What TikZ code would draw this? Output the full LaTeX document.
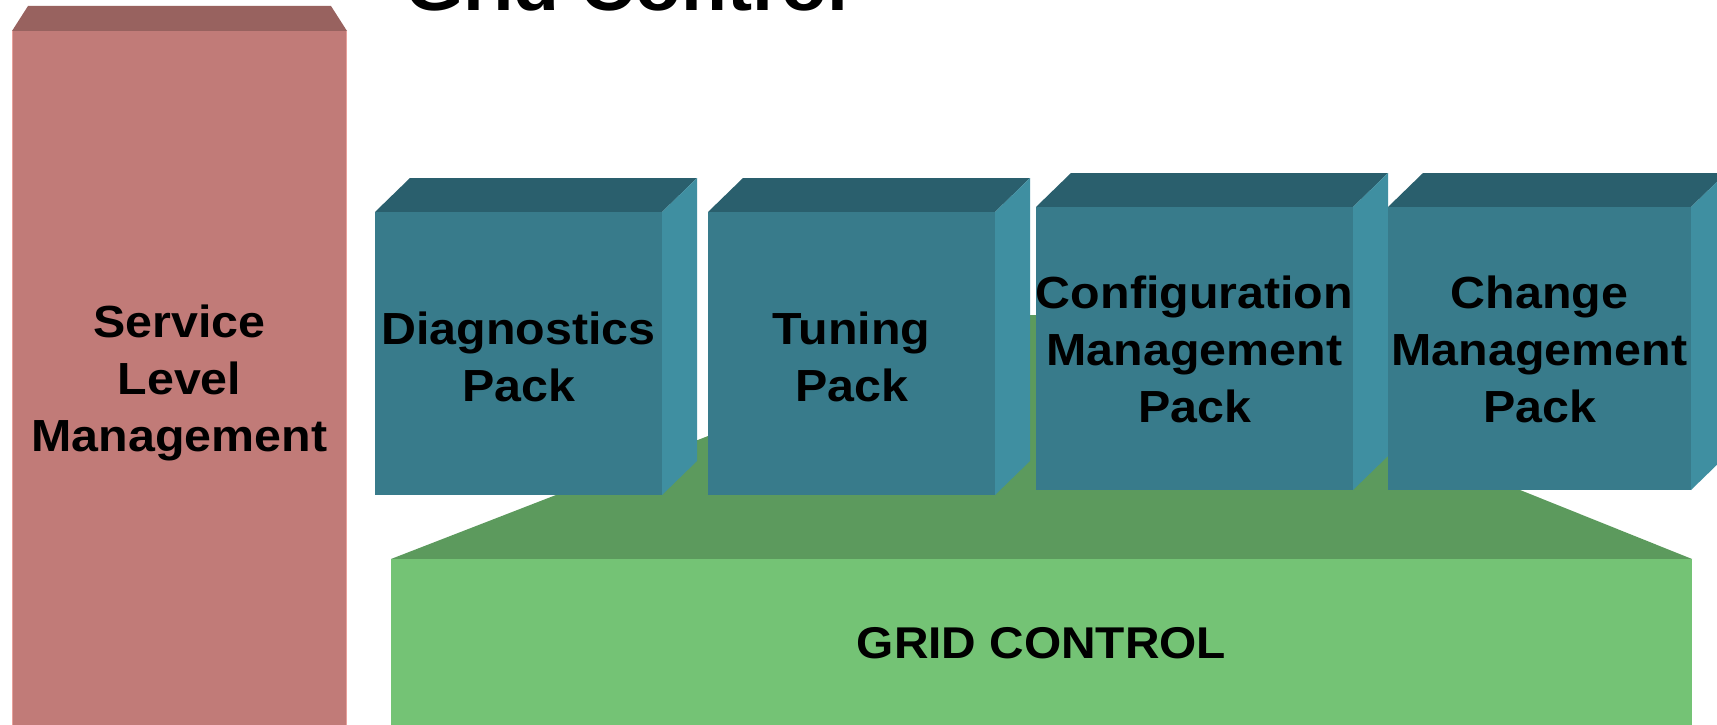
\documentclass[tikz,border=0pt]{standalone}
\usepackage{fontspec}
\setmainfont{Liberation Sans}
\newfontfamily\lab[FakeStretch=1.075]{Liberation Sans}
\definecolor{slmfront}{HTML}{C17B78}
\definecolor{slmtop}{HTML}{98625F}
\definecolor{slmedge}{HTML}{E8A09B}
\definecolor{packfront}{HTML}{387B8B}
\definecolor{packtop}{HTML}{2A5F6D}
\definecolor{packside}{HTML}{3F8FA1}
\definecolor{gridfront}{HTML}{74C375}
\definecolor{gridtop}{HTML}{5C9A5D}
\tikzset{
  lbl/.style={font={\lab\bfseries\fontsize{45}{57}\selectfont}, align=center, inner sep=0pt, text=black},
  titlelbl/.style={font={\lab\bfseries\fontsize{70}{80}\selectfont}, inner sep=0pt, text=black},
  gridlbl/.style={font={\lab\bfseries\fontsize{44.5}{50}\selectfont}, inner sep=0pt, text=black}
}
\newcommand\packbox[4]{%
  \fill[packtop] ({#1},{#2}) -- ({#1+35},{#2-34}) -- ({#3+35},{#2-34}) -- ({#3},{#2}) -- cycle;
  \fill[packside] ({#3},{#2}) -- ({#3+35},{#2-34}) -- ({#3+35},{#4-34}) -- ({#3},{#4}) -- cycle;
  \fill[packfront] ({#1},{#2}) rectangle ({#3},{#4});
}
\begin{document}
\begin{tikzpicture}[x=1pt,y=-1pt]
\useasboundingbox (0,0) rectangle (1717,725);
\clip (0,0) rectangle (1717,725);
\fill[white] (0,0) rectangle (1717,725);
% title (cut off at top, as in the reference)
\node[titlelbl, anchor=base west] (title) at (405,11) {Grid Control};
% service level management column
\fill[slmtop] (12,31) -- (28,6) -- (331,6) -- (347,31) -- cycle;
\fill[slmfront] (12,31) rectangle (347,740);
\draw[slmedge, line width=1.2pt] (12.6,31) -- (12.6,740) (346.4,31) -- (346.4,740);
\node[lbl] (slm) at (179.5,383) {Service\\Level\\Management};
% grid control slab
\fill[gridtop] (391,559) -- (1020,315) -- (1084,315) -- (1692,559) -- cycle;
\fill[gridfront] (391,559) rectangle (1692,740);
\node[gridlbl] (grid) at (1041.5,643) {GRID CONTROL};
% packs
\packbox{375}{212}{662}{495}
\packbox{708}{212}{995}{495}
\packbox{1036}{207}{1353}{490}
\packbox{1388}{207}{1691}{490}
\node[lbl] (diag) at (518.5,357) {Diagnostics\\Pack};
\node[lbl] (tune) at (851.5,357) {Tuning\\Pack};
\node[lbl] (conf) at (1194.5,349.5) {Configuration\\Management\\Pack};
\node[lbl] (chg) at (1539.5,349) {Change\\Management\\Pack};
\end{tikzpicture}
\end{document}
